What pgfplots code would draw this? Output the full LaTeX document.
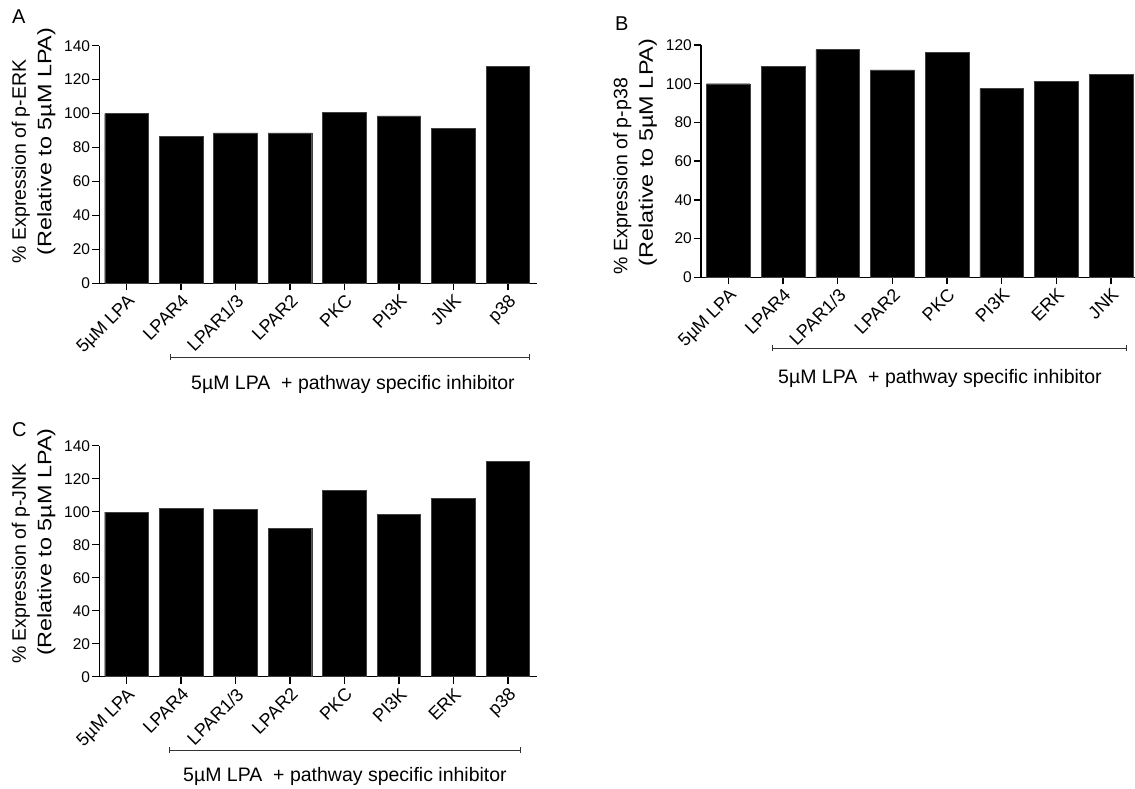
\documentclass[border=0pt]{standalone}
\usepackage{fontspec}
\setmainfont{Liberation Sans}
\newfontfamily\widefont[FakeStretch=1.2]{Liberation Sans}
\usepackage{pgfplots}
\pgfplotsset{compat=1.18}
\pgfplotsset{
  panel/.style={
    scale only axis,
    ybar, bar width=0.8,
    axis lines*=left,
    axis line style={line width=1.5pt, black},
    tick align=outside,
    major tick length=7pt,
    every tick/.style={line width=1.5pt, black},
    xmin=-0.5, ymin=0,
    xtick={0,...,7},
    /pgf/number format/assume math mode=true,
    yticklabel style={font=\fontsize{15.5}{18}\selectfont, inner sep=2pt},
    xticklabel style={font=\fontsize{18}{20}\selectfont, rotate=45, anchor=north east, inner sep=2pt},
    ylabel style={font=\fontsize{19.5}{25.5}\selectfont, align=left, anchor=center},
    clip=false,
  },
  blk/.style={fill=black, draw=black!75, line width=0.4pt},
}
\begin{document}
\begin{tikzpicture}
\useasboundingbox (0,0) rectangle (1135pt,789pt);

% Panel A
\begin{axis}[panel, at={(99.3pt,505.7pt)}, anchor=south west,
  width=437.4pt, height=237.6pt, xmax=7.53, ymax=140, ytick={0,20,...,140},
  xticklabels={5µM LPA, LPAR4, LPAR1/3, LPAR2, PKC, PI3K, JNK, p38},
  ylabel={\% Expression of p-ERK\\\hspace*{8pt}{\widefont (Relative to 5µM LPA)}},
  ylabel style={at={(axis description cs:-0.15,0.58)}}]
\addplot[blk] coordinates {(0,100) (1,86.6) (2,88.6) (3,88.6) (4,100.6) (5,98.6) (6,91.4) (7,128)};
\end{axis}

% Panel B
\begin{axis}[panel, at={(701pt,511.7pt)}, anchor=south west,
  width=434pt, height=232.3pt, xmax=7.44, ymax=120, ytick={0,20,...,120},
  xticklabels={5µM LPA, LPAR4, LPAR1/3, LPAR2, PKC, PI3K, ERK, JNK},
  ylabel={\% Expression of p-p38\\\hspace*{8pt}{\widefont (Relative to 5µM LPA)}},
  ylabel style={at={(axis description cs:-0.152,0.52)}}]
\addplot[blk] coordinates {(0,100) (1,108.9) (2,117.6) (3,107.2) (4,116.2) (5,97.5) (6,101.2) (7,105)};
\end{axis}

% Panel C
\begin{axis}[panel, at={(99.3pt,112.3pt)}, anchor=south west,
  width=437.4pt, height=231pt, xmax=7.53, ymax=140, ytick={0,20,...,140},
  xticklabels={5µM LPA, LPAR4, LPAR1/3, LPAR2, PKC, PI3K, ERK, p38},
  ylabel={\% Expression of p-JNK\\\hspace*{8pt}{\widefont (Relative to 5µM LPA)}},
  ylabel style={at={(axis description cs:-0.15,0.565)}}]
\addplot[blk] coordinates {(0,99.8) (1,102) (2,101.6) (3,89.9) (4,112.8) (5,98.2) (6,108.2) (7,130.6)};
\end{axis}

% brackets
\draw[line width=1pt, black!80] (170pt,431.7pt) -- (529pt,431.7pt);
\draw[line width=1pt, black!80] (170pt,428.7pt) -- (170pt,434.7pt);
\draw[line width=1pt, black!80] (529pt,428.7pt) -- (529pt,434.7pt);
\draw[line width=1pt, black!80] (772pt,440.7pt) -- (1126pt,440.7pt);
\draw[line width=1pt, black!80] (772pt,437.7pt) -- (772pt,443.7pt);
\draw[line width=1pt, black!80] (1126pt,437.7pt) -- (1126pt,443.7pt);
\draw[line width=1pt, black!80] (169pt,38.5pt) -- (520pt,38.5pt);
\draw[line width=1pt, black!80] (169pt,35.5pt) -- (169pt,41.5pt);
\draw[line width=1pt, black!80] (520pt,35.5pt) -- (520pt,41.5pt);

\node[anchor=base, font=\fontsize{19.5}{22}\selectfont, inner sep=0] at (353pt,399pt) {5µM LPA\ \ + pathway specific inhibitor};
\node[anchor=base, font=\fontsize{19.5}{22}\selectfont, inner sep=0] at (940pt,405pt) {5µM LPA\ \ + pathway specific inhibitor};
\node[anchor=base, font=\fontsize{19.5}{22}\selectfont, inner sep=0] at (345pt,7pt) {5µM LPA\ \ + pathway specific inhibitor};

% panel letters
\node[anchor=base west, font=\fontsize{20}{22}\selectfont, inner sep=0] at (12pt,765pt) {A};
\node[anchor=base west, font=\fontsize{20}{22}\selectfont, inner sep=0] at (615pt,758pt) {B};
\node[anchor=base west, font=\fontsize{20}{22}\selectfont, inner sep=0] at (12pt,352pt) {C};
\end{tikzpicture}
\end{document}
